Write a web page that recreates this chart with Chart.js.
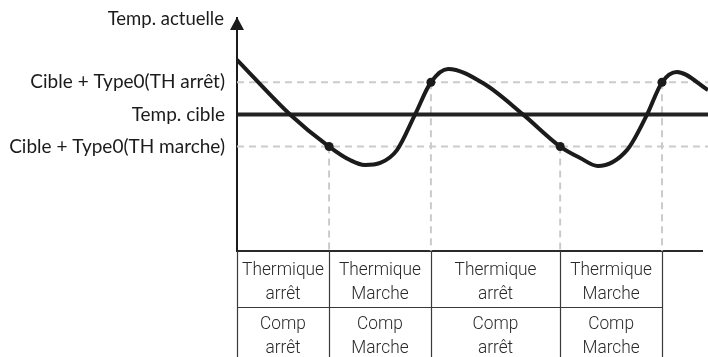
<!DOCTYPE html>
<html>
<head>
<meta charset="utf-8">
<script src="https://cdn.jsdelivr.net/npm/chart.js@4.4.1/dist/chart.umd.min.js"></script>
<style>
  html, body { margin: 0; padding: 0; background: #fff; }
  #wrap { width: 708px; height: 357px; }
</style>
</head>
<body>
<div id="wrap"><canvas id="thermoChart" width="708" height="357"></canvas></div>
<script>
// temperature curve (time, temp)
var curveTime = [0, 11.4, 19.8, 24.3, 27.5, 30.8, 34.4, 38.3, 41.7, 45.4, 52.9, 61.5, 69.5, 73.8, 77.6, 83.9, 88.2, 91.4, 94.6, 101.3];
var curveTemp = [23.4, 20, 18, 17.16, 16.85, 16.98, 17.78, 20, 22, 22.83, 21.95, 20, 18, 17.29, 16.79, 17.79, 20, 22, 22.64, 21.52];

// switching points of the thermostat
var switchTime = [19.8, 41.7, 69.5, 91.4];
var switchTemp = [18, 22, 18, 22];

// thresholds on the temp axis
var levelTemps = [18, 20, 22];
var levelLabels = ['Cible + Type0(TH marche)', 'Temp. cible', 'Cible + Type0(TH arrêt)'];
var axisTitle = 'Temp. actuelle';

// state table under the time axis
var rowThermique = [['Thermique', 'arrêt'], ['Thermique', 'Marche'], ['Thermique', 'arrêt'], ['Thermique', 'Marche']];
var rowComp = [['Comp', 'arrêt'], ['Comp', 'Marche'], ['Comp', 'arrêt'], ['Comp', 'Marche']];

var tMin = 0, tMax = 100, tEnd = 101.3;
var yMin = 11.5, yMax = 26;

var curvePts = curveTime.map(function (t, i) { return {x: t, y: curveTemp[i]}; });
var markPts = switchTime.map(function (t, i) { return {x: t, y: switchTemp[i]}; });

var dashColor = '#cbcbcb';
var datasets = [];

datasets.push({
  data: curvePts,
  borderColor: '#1b1b1b',
  borderWidth: 4,
  cubicInterpolationMode: 'monotone',
  pointRadius: 0,
  showLine: true,
  order: 0,
  clip: {left: 0, top: 20, right: 6, bottom: 0}
});
datasets.push({
  data: markPts,
  backgroundColor: '#1b1b1b',
  borderWidth: 0,
  pointRadius: 4.5,
  showLine: false,
  order: 0
});
// target temp line
datasets.push({
  data: [{x: tMin, y: 20}, {x: tEnd, y: 20}],
  borderColor: '#222',
  borderWidth: 4,
  pointRadius: 0,
  showLine: true,
  order: 1,
  clip: {left: 0, top: 0, right: 6, bottom: 0}
});
// hysteresis limits
[18, 22].forEach(function (v) {
  datasets.push({
    data: [{x: tMin, y: v}, {x: tEnd, y: v}],
    borderColor: dashColor,
    borderWidth: 2,
    borderDash: [7, 5],
    pointRadius: 0,
    showLine: true,
    order: 2,
    clip: {left: 0, top: 0, right: 6, bottom: 0}
  });
});
// drop lines from the switching points
switchTime.forEach(function (t, i) {
  datasets.push({
    data: [{x: t, y: switchTemp[i]}, {x: t, y: yMin}],
    borderColor: dashColor,
    borderWidth: 2,
    borderDash: [7, 5],
    pointRadius: 0,
    showLine: true,
    order: 2
  });
});

// narrow text for the table cells
function drawNarrow(ctx, text, cx, y, sx) {
  ctx.save();
  ctx.translate(cx, y);
  ctx.scale(sx, 1);
  ctx.fillText(text, 0, 0);
  ctx.restore();
}

var axisExtras = {
  id: 'axisExtras',
  afterDraw: function (chart) {
    var ctx = chart.ctx;
    var x = chart.scales.x;
    var top = chart.chartArea.top, bottom = chart.chartArea.bottom;
    var left = chart.chartArea.left;

    ctx.save();
    // arrow head on the temp axis
    ctx.fillStyle = '#1b1b1b';
    ctx.beginPath();
    ctx.moveTo(left, top - 1);
    ctx.lineTo(left - 7, top + 12);
    ctx.lineTo(left + 7, top + 12);
    ctx.closePath();
    ctx.fill();

    ctx.font = '18.5px Lato';
    ctx.textAlign = 'right';
    ctx.textBaseline = 'middle';
    ctx.fillText(axisTitle, left - 13, top + 1);

    // table
    var edges = [left].concat(switchTime.map(function (t) { return x.getPixelForValue(t); }));
    var rowSplit = bottom + 56;
    ctx.strokeStyle = '#3a3a3a';
    ctx.lineWidth = 1.2;
    edges.forEach(function (px) {
      ctx.beginPath();
      ctx.moveTo(Math.round(px) + 0.5, bottom);
      ctx.lineTo(Math.round(px) + 0.5, chart.height);
      ctx.stroke();
    });
    ctx.beginPath();
    ctx.moveTo(left, rowSplit + 0.5);
    ctx.lineTo(edges[edges.length - 1], rowSplit + 0.5);
    ctx.stroke();

    ctx.fillStyle = '#2a2a2a';
    ctx.font = '300 19px Roboto';
    ctx.textAlign = 'center';
    ctx.textBaseline = 'alphabetic';
    for (var i = 0; i < rowThermique.length; i++) {
      var cx = (edges[i] + edges[i + 1]) / 2;
      drawNarrow(ctx, rowThermique[i][0], cx, bottom + 24, 0.91);
      drawNarrow(ctx, rowThermique[i][1], cx, bottom + 48, 0.91);
      drawNarrow(ctx, rowComp[i][0], cx, bottom + 78, 0.91);
      drawNarrow(ctx, rowComp[i][1], cx, bottom + 102, 0.91);
    }
    ctx.restore();
  }
};

var ctx = document.getElementById('thermoChart').getContext('2d');
new Chart(ctx, {
  type: 'scatter',
  data: {datasets: datasets},
  options: {
    responsive: false,
    animation: false,
    devicePixelRatio: 1,
    layout: {padding: {left: 0, right: 6, top: 18, bottom: 106}},
    plugins: {legend: {display: false}, tooltip: {enabled: false}},
    scales: {
      x: {
        type: 'linear',
        min: tMin,
        max: tMax,
        grid: {display: false, drawTicks: false},
        border: {display: true, color: '#2a2a2a', width: 2},
        ticks: {display: false}
      },
      y: {
        min: yMin,
        max: yMax,
        afterFit: function (scale) {
          scale.width = 237;
          // labels sit well inside the range, no end padding needed
          scale.paddingTop = 0;
          scale.paddingBottom = 0;
        },
        afterBuildTicks: function (scale) {
          scale.ticks = levelTemps.map(function (v) { return {value: v}; });
        },
        grid: {display: false, drawTicks: false},
        border: {display: true, color: '#1b1b1b', width: 2},
        ticks: {
          padding: 12,
          color: '#1b1b1b',
          font: {family: 'Lato', size: 19},
          callback: function (value) {
            return levelLabels[levelTemps.indexOf(value)];
          }
        }
      }
    }
  },
  plugins: [axisExtras]
});
</script>
</body>
</html>
